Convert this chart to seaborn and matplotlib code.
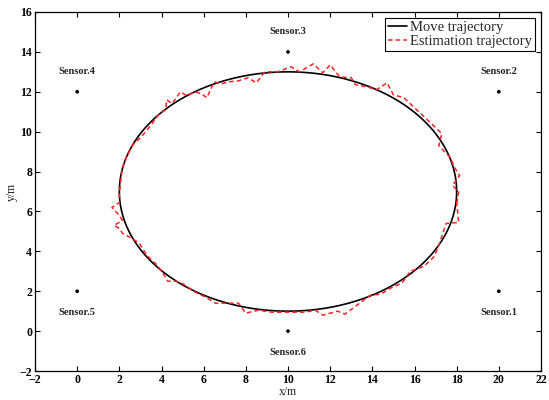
import numpy as np
import pandas as pd
import matplotlib
matplotlib.use("Agg")
import matplotlib.pyplot as plt
import seaborn as sns

# ---- data ----
sensor_x = [20, 20, 10, 0, 0, 10]
sensor_y = [2, 12, 14, 12, 2, 0]
sensor_names = ["Sensor.1", "Sensor.2", "Sensor.3", "Sensor.4", "Sensor.5", "Sensor.6"]
label_y = [0.95, 13.0, 15.0, 13.0, 0.95, -1.05]

# true (move) trajectory: ellipse
ellipse_center = (10.0, 7.0)
ellipse_radii = (8.0, 6.0)

# estimated trajectory
est_x = [18.0, 18.1, 17.8, 18.14, 17.9, 17.7, 17.15, 17.3, 16.6, 16.0, 15.5, 15.0, 14.7, 14.2,
         13.75, 13.2, 13.0, 12.45, 12.0, 11.65, 11.2, 10.55, 10.15, 9.5, 8.9, 8.5, 8.1, 7.65,
         7.2, 6.85, 6.5, 6.15, 5.9, 5.6, 5.2, 4.9, 4.5, 4.25, 4.2, 3.9, 3.55, 3.25, 3.0, 2.6,
         2.35, 2.15, 2.05, 2.0, 2.0, 1.65, 2.0, 2.15, 1.75, 2.0, 2.15, 2.6, 2.95, 3.3, 3.8,
         4.1, 4.3, 4.7, 5.05, 5.6, 6.1, 6.55, 7.2, 7.65, 8.0, 8.6, 9.2, 10.1, 10.8, 11.3,
         11.65, 12.35, 12.7, 13.4, 13.9, 14.4, 14.85, 15.4, 15.8, 16.45, 16.95, 17.2, 17.5,
         18.1, 18.0]
est_y = [6.4, 7.0, 7.3, 7.8, 8.2, 8.7, 9.3, 9.9, 10.6, 11.2, 11.7, 11.85, 12.45, 12.1,
         12.25, 12.35, 12.7, 12.75, 13.35, 12.95, 13.4, 13.0, 13.25, 13.0, 13.0, 12.45, 12.7,
         12.55, 12.5, 12.4, 12.5, 11.7, 11.9, 12.0, 11.8, 12.0, 11.4, 11.6, 11.1, 10.9, 10.4,
         10.0, 9.7, 9.3, 8.75, 8.2, 7.4, 6.9, 6.45, 6.2, 5.8, 5.55, 5.3, 5.15, 4.9, 4.65, 4.4,
         3.8, 3.3, 2.85, 2.5, 2.5, 2.35, 1.95, 1.7, 1.4, 1.4, 1.4, 0.9, 1.05, 0.95, 0.95, 0.95,
         1.05, 0.8, 1.0, 0.85, 1.4, 1.8, 1.85, 2.15, 2.4, 3.0, 3.25, 3.75, 4.45, 5.4, 5.45, 6.4]

x_ticks = list(range(-2, 23, 2))
y_ticks = list(range(-2, 17, 2))

# ---- style ----
sns.set_style("ticks")
plt.rcParams["font.family"] = ["Liberation Serif", "DejaVu Serif"]
plt.rcParams["xtick.direction"] = "in"
plt.rcParams["ytick.direction"] = "in"

fig = plt.figure(figsize=(5.49, 4.0), dpi=100)
ax = fig.add_axes([35 / 549, 0.0725, 506 / 549, 0.8975])

t = np.linspace(0, 2 * np.pi, 400)
move = pd.DataFrame({
    "x": ellipse_center[0] + ellipse_radii[0] * np.cos(t),
    "y": ellipse_center[1] + ellipse_radii[1] * np.sin(t),
})
est = pd.DataFrame({"x": est_x, "y": est_y})
sens = pd.DataFrame({"x": sensor_x, "y": sensor_y})

sns.lineplot(data=move, x="x", y="y", sort=False, estimator=None, ax=ax,
             color="black", linewidth=1.2, label="Move trajectory")
sns.lineplot(data=est, x="x", y="y", sort=False, estimator=None, ax=ax,
             color="#ff2020", linewidth=1.1, linestyle=(0, (3, 2)),
             label="Estimation trajectory")
sns.scatterplot(data=sens, x="x", y="y", ax=ax, color="black", s=7,
                edgecolor="none", legend=False)

for sx, ly, name in zip(sensor_x, label_y, sensor_names):
    ax.text(sx, ly, name, ha="center", va="center", fontsize=7.5,
            fontweight="bold")

ax.set_xlim(-2, 22)
ax.set_ylim(-2, 16)
ax.set_xticks(x_ticks)
ax.set_yticks(y_ticks)
ax.tick_params(axis="both", which="both", top=True, right=True, length=3.5,
               width=0.8, labelsize=8.5, pad=2, colors="black")
for lab in ax.get_xticklabels() + ax.get_yticklabels():
    lab.set_fontweight("bold")
for sp in ax.spines.values():
    sp.set_linewidth(0.9)
    sp.set_color("black")
ax.set_xlabel("x/m", fontsize=8.5, labelpad=0)
ax.set_ylabel("y/m", fontsize=8.5, labelpad=1)

leg = ax.legend(loc="upper right", fontsize=10.5, frameon=True, fancybox=False,
                edgecolor="black", framealpha=1, handlelength=1.3,
                handletextpad=0.2, borderpad=0.2, labelspacing=0.05,
                borderaxespad=0.4)
leg.get_frame().set_linewidth(0.8)

fig.savefig("out.png", dpi=100)
